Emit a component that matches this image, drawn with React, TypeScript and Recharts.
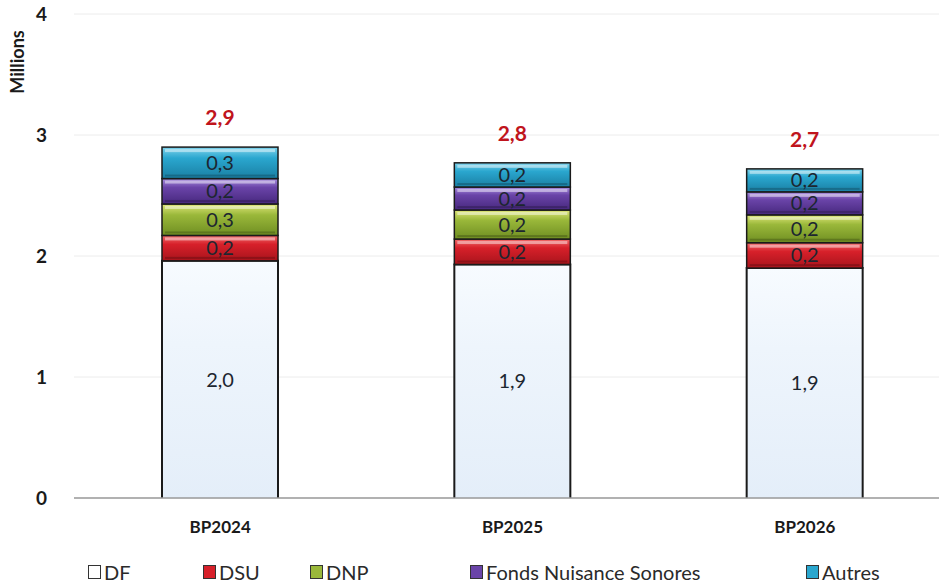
import React from "react";
import {
    Bar,
    BarChart,
    CartesianGrid,
    LabelList,
    Legend,
    XAxis,
    YAxis,
} from "recharts";

const categories = ["BP2024", "BP2025", "BP2026"];
const df = [1.96, 1.93, 1.9];
const dsu = [0.21, 0.21, 0.21];
const dnp = [0.26, 0.24, 0.23];
const fonds = [0.21, 0.19, 0.19];
const autres = [0.26, 0.2, 0.19];
const yTicks = [0, 1, 2, 3, 4];

const FONT = "Lato, 'Liberation Sans', sans-serif";

const data = categories.map((name, i) => ({
    name,
    df: df[i],
    dsu: dsu[i],
    dnp: dnp[i],
    fonds: fonds[i],
    autres: autres[i],
    total: df[i] + dsu[i] + dnp[i] + fonds[i] + autres[i],
}));

const series = [
    { key: "df", label: "DF", color: "#eef5fc", top: "#f7fbff", bottom: "#e4eef9" },
    { key: "dsu", label: "DSU", color: "#d7202a", top: "#f06a6a", bottom: "#a8141c" },
    { key: "dnp", label: "DNP", color: "#9ab83a", top: "#dfe67a", bottom: "#6f8e22" },
    { key: "fonds", label: "Fonds Nuisance Sonores", color: "#6a44a8", top: "#a88ee0", bottom: "#47287e" },
    { key: "autres", label: "Autres", color: "#2aa7cf", top: "#7fd3ec", bottom: "#1a7fa3" },
];

// left edge of each legend entry, Excel spaces them unevenly
const legendLeft = [88, 203, 310, 470, 806];

const fmt = (v: number) => v.toFixed(1).replace(".", ",");

const BevelBar = (props: any) => {
    const { x, y, width, height, gradId, flat } = props;
    if (height <= 0) return null;
    if (flat) {
        return (
            <g>
                <rect x={x} y={y} width={width} height={height} fill={`url(#${gradId})`} />
                <path
                    d={`M${x},${y + height} L${x},${y} L${x + width},${y} L${x + width},${y + height}`}
                    fill="none"
                    stroke="#1a1a1a"
                    strokeWidth={2}
                />
            </g>
        );
    }
    return (
        <g>
            <rect x={x} y={y} width={width} height={height} fill={`url(#${gradId})`} stroke="#1a1a1a" strokeWidth={1.5} />
            <rect x={x + 3} y={y + 2} width={width - 6} height={3} fill="#ffffff" opacity={0.45} />
            <rect x={x + 3} y={y + height - 4} width={width - 6} height={2} fill="#000000" opacity={0.2} />
        </g>
    );
};

const LegendContent = () => (
    <div style={{ position: "relative", height: 28, fontFamily: FONT, fontSize: 20, color: "#2a2a2a" }}>
        {series.map((s, i) => (
            <div
                key={s.key}
                style={{
                    position: "absolute",
                    left: legendLeft[i],
                    top: 0,
                    display: "flex",
                    alignItems: "center",
                    whiteSpace: "nowrap",
                }}
            >
                <span
                    style={{
                        display: "inline-block",
                        width: 13,
                        height: 14,
                        marginRight: 3,
                        background: s.key === "df" ? "#ffffff" : s.color,
                        border: "1.5px solid #333",
                        boxSizing: "border-box",
                    }}
                />
                {s.label}
            </div>
        ))}
    </div>
);

export default function App() {
    return (
        <div style={{ position: "absolute", left: 0, top: 0, width: 939, height: 588, overflow: "hidden", background: "#fff" }}>
            <BarChart
                width={960}
                height={588}
                data={data}
                margin={{ top: 14, right: 9, bottom: 0, left: 14 }}
                barSize={116}
            >
                <defs>
                    {series.map((s) => (
                        <linearGradient key={s.key} id={`g-${s.key}`} x1="0" y1="0" x2="0" y2="1">
                            <stop offset="0%" stopColor={s.top} />
                            <stop offset="35%" stopColor={s.color} />
                            <stop offset="100%" stopColor={s.bottom} />
                        </linearGradient>
                    ))}
                </defs>
                <CartesianGrid vertical={false} stroke="#ececec" />
                <XAxis
                    dataKey="name"
                    height={62}
                    axisLine={{ stroke: "#9a9a9a", strokeWidth: 1.5 }}
                    tickLine={false}
                    tick={{ fontFamily: FONT, fontSize: 17, fontWeight: 700, fill: "#1a1a1a" }}
                    tickMargin={17}
                />
                <YAxis
                    width={60}
                    domain={[0, 4]}
                    ticks={yTicks}
                    axisLine={false}
                    tickLine={false}
                    tickMargin={21}
                    tick={{ fontFamily: FONT, fontSize: 19, fontWeight: 700, fill: "#1a1a1a" }}
                    label={{
                        content: () => (
                            <text
                                x={17}
                                y={62}
                                transform="rotate(-90, 17, 62)"
                                textAnchor="middle"
                                dominantBaseline="central"
                                fontFamily={FONT}
                                fontSize={18}
                                fontWeight={700}
                                fill="#1a1a1a"
                            >
                                Millions
                            </text>
                        ),
                    }}
                />
                <Legend
                    verticalAlign="bottom"
                    content={LegendContent}
                    wrapperStyle={{ left: 0, bottom: 0, width: 960, height: 28 }}
                />
                {series.map((s, idx) => (
                    <Bar
                        key={s.key}
                        dataKey={s.key}
                        name={s.label}
                        stackId="a"
                        fill={s.color}
                        isAnimationActive={false}
                        shape={(p: any) => <BevelBar {...p} gradId={`g-${s.key}`} flat={s.key === "df"} />}
                    >
                        <LabelList
                            dataKey={s.key}
                            position="center"
                            formatter={(v: any) => fmt(Number(v))}
                            style={{ fontFamily: FONT, fontSize: 20, fill: "#1c2630" }}
                        />
                        {idx === series.length - 1 && (
                            <LabelList
                                dataKey="total"
                                position="top"
                                offset={22}
                                formatter={(v: any) => fmt(Number(v))}
                                style={{ fontFamily: FONT, fontSize: 21, fontWeight: 700, fill: "#c0141c" }}
                            />
                        )}
                    </Bar>
                ))}
            </BarChart>
        </div>
    );
}
